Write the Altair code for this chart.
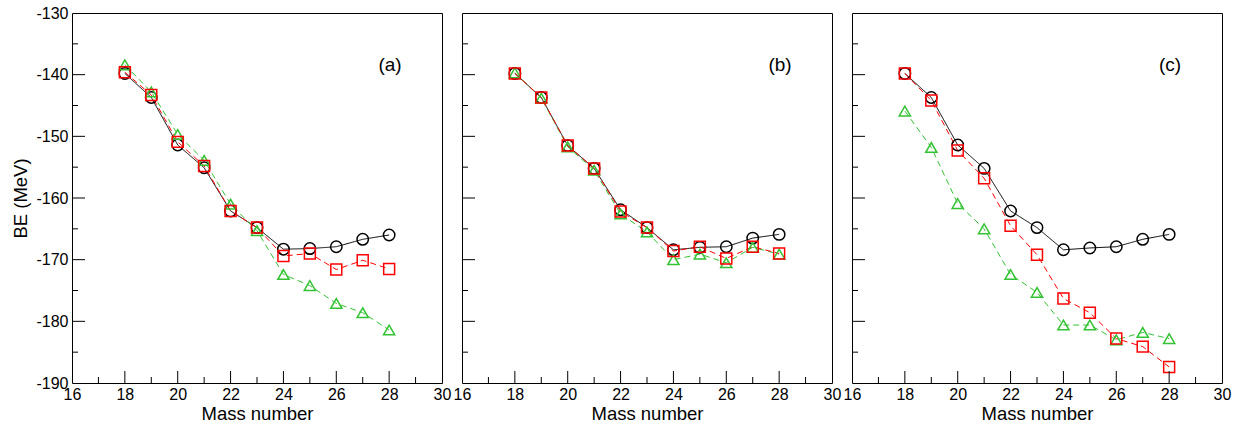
import altair as alt
import pandas as pd

FONT = "Liberation Sans"

mass = list(range(18, 29))

# Panel (a)
a_exp = [-139.8, -143.7, -151.4, -155.1, -162.1, -164.8, -168.3, -168.2, -167.9, -166.7, -166.0]
a_sq = [-139.6, -143.3, -150.9, -154.8, -162.1, -164.8, -169.4, -169.0, -171.6, -170.1, -171.5]
a_tri = [-138.4, -142.8, -149.7, -153.9, -161.0, -165.3, -172.4, -174.2, -177.1, -178.6, -181.4]

# Panel (b)
b_exp = [-139.8, -143.7, -151.5, -155.2, -161.9, -164.8, -168.4, -168.0, -167.9, -166.5, -165.9]
b_sq = [-139.8, -143.7, -151.5, -155.2, -162.2, -164.8, -168.6, -167.9, -169.8, -167.9, -169.0]
b_tri = [-139.7, -143.8, -151.7, -155.5, -162.6, -165.5, -170.0, -169.1, -170.5, -168.0, -169.1]

# Panel (c)
c_exp = [-139.8, -143.7, -151.4, -155.2, -162.1, -164.8, -168.4, -168.1, -167.9, -166.7, -165.9]
c_sq = [-139.8, -144.2, -152.3, -156.8, -164.5, -169.2, -176.3, -178.6, -182.8, -184.1, -187.4]
c_tri = [-145.9, -151.8, -160.9, -165.0, -172.4, -175.3, -180.6, -180.6, -183.0, -181.8, -182.8]

panel_labels = ["(a)", "(b)", "(c)"]
series_names = ["exp", "tri", "sq"]
series_colors = ["#000000", "#33C233", "#FF0000"]
series_shapes = ["circle", "triangle-up", "square"]
series_dash = [[1, 0], [6, 4], [6, 4]]
series_sizes = [130, 120, 105]

x_labels = list(range(16, 31, 2))
y_labels = list(range(-190, -129, 10))
x_major = list(range(18, 30, 2))
x_minor = list(range(17, 30, 2))
y_major = list(range(-180, -130, 10))
y_minor = list(range(-185, -130, 10))

rows = []
for p, (e, s, t) in zip(panel_labels, [(a_exp, a_sq, a_tri), (b_exp, b_sq, b_tri), (c_exp, c_sq, c_tri)]):
    for name, vals in zip(["exp", "tri", "sq"], [e, t, s]):
        for m, v in zip(mass, vals):
            rows.append({"panel": p, "s": name, "A": m, "BE": v})
df = pd.DataFrame(rows)

W, H = 370, 370
xscale = alt.Scale(domain=[16, 30], nice=False, zero=False)
yscale = alt.Scale(domain=[-190, -130], nice=False, zero=False)


def make_panel(p, show_y):
    d = df[df.panel == p]
    xax = alt.Axis(values=x_labels, ticks=False, domain=False, grid=False,
                   labelOverlap=False, labelFlush=False, labelExpr="'' + datum.value",
                   labelFontSize=16, labelPadding=3, title="Mass number", titleFontSize=18.5,
                   titleFontWeight="normal", titlePadding=2, labelColor="black", titleColor="black")
    yax = alt.Axis(values=y_labels, ticks=False, domain=False, grid=False,
                   labelOverlap=False, labelFlush=False, labelExpr="'' + datum.value",
                   labelFontSize=16, labelPadding=4, title="BE (MeV)" if show_y else "",
                   labels=show_y, titleFontSize=18.5, titleFontWeight="normal", titlePadding=5,
                   labelColor="black", titleColor="black")
    x = alt.X("A:Q", scale=xscale, axis=xax)
    y = alt.Y("BE:Q", scale=yscale, axis=yax)
    color = alt.Color("s:N", scale=alt.Scale(domain=series_names, range=series_colors), legend=None)
    lines = alt.Chart(d).mark_line(strokeWidth=1).encode(
        x=x, y=y, color=color,
        strokeDash=alt.StrokeDash("s:N", scale=alt.Scale(domain=series_names, range=series_dash), legend=None),
    )
    pts = alt.Chart(d).mark_point(filled=False, strokeWidth=1.5, opacity=1).encode(
        x=x, y=y, color=color,
        shape=alt.Shape("s:N", scale=alt.Scale(domain=series_names, range=series_shapes), legend=None),
        size=alt.Size("s:N", scale=alt.Scale(domain=series_names, range=series_sizes), legend=None),
    )
    yt_major = alt.Chart(pd.DataFrame({"BE": y_major})).mark_rule(color="black", strokeWidth=1).encode(
        y=y, x=alt.value(0), x2=alt.value(13))
    yt_minor = alt.Chart(pd.DataFrame({"BE": y_minor})).mark_rule(color="black", strokeWidth=1).encode(
        y=y, x=alt.value(0), x2=alt.value(6))
    xt_major = alt.Chart(pd.DataFrame({"A": x_major})).mark_rule(color="black", strokeWidth=1).encode(
        x=x, y=alt.value(H), y2=alt.value(H - 12))
    xt_minor = alt.Chart(pd.DataFrame({"A": x_minor})).mark_rule(color="black", strokeWidth=1).encode(
        x=x, y=alt.value(H), y2=alt.value(H - 6))
    lab = alt.Chart(pd.DataFrame({"t": [p]})).mark_text(fontSize=19, font=FONT, color="black",
                                                         align="center", baseline="middle").encode(
        x=alt.value(318), y=alt.value(52), text="t:N")
    return alt.layer(lines, pts, yt_major, yt_minor, xt_major, xt_minor, lab).properties(width=W, height=H)


chart = alt.hconcat(
    make_panel("(a)", True), make_panel("(b)", False), make_panel("(c)", False), spacing=0
).properties(
    padding={"left": 11, "top": 4, "right": 0, "bottom": 0}
).configure(font=FONT).configure_view(
    stroke="black", strokeWidth=1
).configure_axis(labelFont=FONT, titleFont=FONT)

chart.save("out.html", embed_options={"renderer": "svg", "actions": False})
